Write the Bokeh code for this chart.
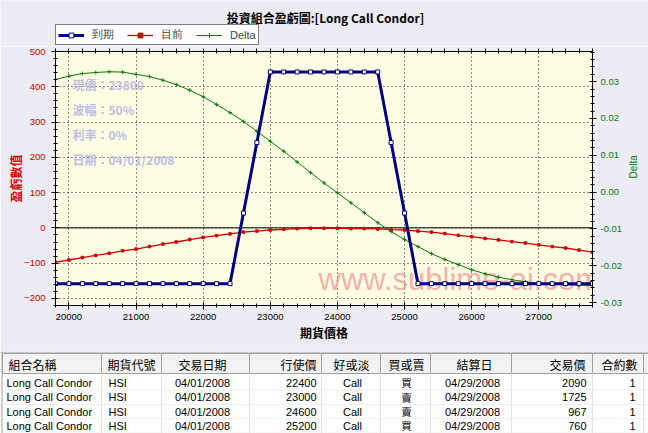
import math
from bokeh.plotting import figure
from bokeh.models import (Range1d, LinearAxis, SingleIntervalTicker, NumeralTickFormatter, FixedTicker,
                          Span, Label, Legend, LegendItem, ColumnDataSource, Plot)
from bokeh.layouts import column
from bokeh.core.properties import value
from bokeh.embed import file_html
from bokeh.resources import INLINE

# ---------------- data ----------------
futures_price = [19800, 20000, 20200, 20400, 20600, 20800, 21000, 21200, 21400, 21600,
                 21800, 22000, 22200, 22400, 22600, 22800, 23000, 23200, 23400, 23600,
                 23800, 24000, 24200, 24400, 24600, 24800, 25000, 25200, 25400, 25600,
                 25800, 26000, 26200, 26400, 26600, 26800, 27000, 27200, 27400, 27600, 27800]
expiry_pl = [-158, -158, -158, -158, -158, -158, -158, -158, -158, -158,
             -158, -158, -158, -158, 42, 242, 442, 442, 442, 442,
             442, 442, 442, 442, 442, 242, 42, -158, -158, -158,
             -158, -158, -158, -158, -158, -158, -158, -158, -158, -158, -158]
current_pl = [-97, -91, -84, -78, -72, -65, -60, -53, -46, -40,
              -33, -27, -22, -17, -12, -9, -6, -4, -2, -1,
              -1, -1, -2, -2, -3, -5, -6, -9, -12, -16,
              -21, -25, -30, -34, -39, -43, -48, -53, -57, -63, -69]
delta = [0.0306, 0.0315, 0.0322, 0.0325, 0.0327, 0.0326, 0.0320, 0.0314, 0.0304, 0.0292,
         0.0277, 0.0259, 0.0238, 0.0216, 0.0192, 0.0165, 0.0138, 0.0111, 0.0082, 0.0053,
         0.0025, -0.0002, -0.0029, -0.0056, -0.0083, -0.0107, -0.0129, -0.0148, -0.0167, -0.0183,
         -0.0197, -0.0211, -0.0222, -0.0231, -0.0238, -0.0244, -0.0247, -0.0250, -0.0252, -0.0253, -0.0254]

series_names = ["到期", "目前", "Delta"]
chart_title = "投資組合盈虧圖:[Long Call Condor]"
x_title = "期貨價格"
y_title = "盈虧數值"
y2_title = "Delta"
info_lines = ["現價：23800", "波幅：50%", "利率：0%", "日期：04/01/2008"]
watermark = "www.sublime-ai.com"

headers = ["組合名稱", "期貨代號", "交易日期", "行使價", "好或淡", "買或賣", "結算日", "交易價", "合約數"]
names = ["Long Call Condor", "Long Call Condor", "Long Call Condor", "Long Call Condor"]
codes = ["HSI", "HSI", "HSI", "HSI"]
trade_dates = ["04/01/2008", "04/01/2008", "04/01/2008", "04/01/2008"]
strikes = [22400, 23000, 24600, 25200]
opt_types = ["Call", "Call", "Call", "Call"]
sides = ["買", "賣", "賣", "買"]
settle_dates = ["04/29/2008", "04/29/2008", "04/29/2008", "04/29/2008"]
prices = [2090, 1725, 967, 760]
qtys = [1, 1, 1, 1]

# ---------------- layout constants ----------------
X0, X1 = 19800, 27800
Y0, Y1 = -220, 500
D0, D1 = -0.0308, 0.0382
W = 648
HEAD_H = 46          # title + legend strip
CH = 305             # chart figure height (frame 51..305 in page coords)
FL, FR, FT, FB = 55, 592, 51 - HEAD_H, 305 - HEAD_H

NAVY = "#000080"
RED = "#CC0000"
GREEN = "#0A7A0A"
BG = "#ECECF5"
CJK = "Noto Sans CJK TC"
LAT = "Liberation Sans"

HAS_FA = "frame_align" in Plot.properties()


def no_align(fig):
    if HAS_FA:
        fig.frame_align = False


def px_x(px):
    return X0 + (px - FL) * (X1 - X0) / (FR - FL)


def px_y(py):
    return Y1 - (py - FT) * (Y1 - Y0) / (FB - FT)


src = ColumnDataSource(dict(x=futures_price, expiry=expiry_pl, current=current_pl, delta=delta))

# ---------------- main chart ----------------
p = figure(width=W, height=CH, x_range=Range1d(X0, X1), y_range=Range1d(Y0, Y1),
           output_backend="svg", toolbar_location=None,
           min_border_left=FL, min_border_right=W - FR, min_border_top=FT, min_border_bottom=CH - FB,
           background_fill_color="#FDFDE3", border_fill_color=BG,
           outline_line_color="black")
no_align(p)
p.extra_y_ranges = {"delta": Range1d(D0, D1)}

xt = SingleIntervalTicker(interval=1000, num_minor_ticks=5)
yt = SingleIntervalTicker(interval=100, num_minor_ticks=5)
dt = SingleIntervalTicker(interval=0.01, num_minor_ticks=5)


def style_axis(ax, color):
    ax.axis_line_color = "black"
    ax.major_tick_line_color = "black"
    ax.minor_tick_line_color = "black"
    ax.major_tick_in = 3
    ax.major_tick_out = 4
    ax.minor_tick_in = 2
    ax.minor_tick_out = 2
    ax.major_label_text_font = LAT
    ax.major_label_text_font_size = "9.5px"
    ax.major_label_text_color = color
    ax.major_label_standoff = 4


p.xaxis.ticker = xt
p.yaxis.ticker = yt
xax = p.xaxis[0]
yax = p.yaxis[0]
style_axis(xax, "black")
style_axis(yax, RED)
yax.major_label_standoff = 6

xax.axis_label = x_title
xax.axis_label_text_font = CJK
xax.axis_label_text_font_size = "12px"
xax.axis_label_text_font_style = "bold"
xax.axis_label_text_color = "black"
xax.axis_label_standoff = 1

yax.axis_label = y_title
yax.axis_label_text_font = CJK
yax.axis_label_text_font_size = "12px"
yax.axis_label_text_font_style = "bold"
yax.axis_label_text_color = "#E00000"
yax.axis_label_standoff = -3

# top border: tick marks only (no major ticks -> no labels)
top_ax = LinearAxis(ticker=FixedTicker(ticks=[], minor_ticks=futures_price))
top_ax.axis_line_color = "black"
top_ax.minor_tick_line_color = "black"
top_ax.minor_tick_in = 2
top_ax.minor_tick_out = 3
p.add_layout(top_ax, "above")

right_ax = LinearAxis(y_range_name="delta", ticker=dt, formatter=NumeralTickFormatter(format="0.00"))
style_axis(right_ax, GREEN)
right_ax.axis_label = y2_title
right_ax.axis_label_text_font = LAT
right_ax.axis_label_text_font_size = "10px"
right_ax.axis_label_text_font_style = "normal"
right_ax.axis_label_text_color = GREEN
right_ax.axis_label_standoff = 8
try:
    right_ax.axis_label_orientation = math.pi / 2
except Exception:
    pass
p.add_layout(right_ax, "right")

p.xgrid.ticker = xt
p.ygrid.ticker = yt
p.grid.grid_line_color = "black"
p.grid.grid_line_dash = "1 3"
p.grid.grid_line_alpha = 0.9

p.add_layout(Span(location=0, dimension="width", line_color="black", line_width=1, level="underlay"))

# watermark & info text
p.add_layout(Label(x=px_x(318), y=px_y(279 - HEAD_H), text=watermark, text_align="left",
                   text_baseline="middle", text_font=LAT, text_font_size="31px",
                   text_color="#F09090", text_alpha=0.7, level="underlay"))
for i, line in enumerate(info_lines):
    p.add_layout(Label(x=px_x(72), y=px_y([84, 108.5, 133.5, 159][i] - HEAD_H), text=line,
                       text_align="left", text_baseline="middle", text_font=CJK,
                       text_font_size="12px", text_font_style="bold", text_color="#BCBCE4",
                       level="underlay"))

p.line("x", "current", source=src, line_color=RED, line_width=1.3)
p.scatter("x", "current", source=src, marker="square", size=2.5, fill_color=RED, line_color=RED)
p.line("x", "delta", source=src, y_range_name="delta", line_color=GREEN, line_width=1)
p.scatter("x", "delta", source=src, y_range_name="delta", marker="cross", size=4,
          line_color=GREEN, line_width=1)
p.line("x", "expiry", source=src, line_color=NAVY, line_width=3)
p.scatter("x", "expiry", source=src, marker="square", size=4, fill_color="white",
          line_color=NAVY, line_width=1)

# ---------------- header strip: title + legend ----------------
hd = figure(width=W, height=HEAD_H, x_range=Range1d(0, W), y_range=Range1d(HEAD_H, 0),
            x_axis_type=None, y_axis_type=None, output_backend="svg", toolbar_location=None,
            min_border=0, background_fill_color=BG, border_fill_color=BG, outline_line_color=None)
no_align(hd)
hd.grid.visible = False
hd.add_layout(Label(x=325, y=17, text=chart_title, text_align="center", text_baseline="middle",
                    text_font=CJK, text_font_size="12px", text_font_style="bold", text_color="black"))
# legend renderers share the series source; their points fall outside this strip's ranges
h_exp_l = hd.line("x", "expiry", source=src, line_color=NAVY, line_width=3)
h_exp_p = hd.scatter("x", "expiry", source=src, marker="square", size=4, fill_color="white",
                     line_color=NAVY, line_width=1)
h_cur_l = hd.line("x", "current", source=src, line_color=RED, line_width=1.3)
h_cur_p = hd.scatter("x", "current", source=src, marker="square", size=2.5, fill_color=RED, line_color=RED)
h_del_l = hd.line("x", "delta", source=src, line_color=GREEN, line_width=1)
h_del_p = hd.scatter("x", "delta", source=src, marker="cross", size=4, line_color=GREEN, line_width=1)
legend = Legend(items=[LegendItem(label=series_names[0], renderers=[h_exp_l, h_exp_p]),
                       LegendItem(label=series_names[1], renderers=[h_cur_l, h_cur_p]),
                       LegendItem(label=series_names[2], renderers=[h_del_l, h_del_p])],
                orientation="horizontal", location=(55, 1),
                border_line_color="black", border_line_width=1,
                background_fill_color="white", background_fill_alpha=1,
                padding=2, spacing=13, margin=0, glyph_width=26, glyph_height=12,
                label_standoff=8, label_height=12, label_text_font=LAT,
                label_text_font_size="11px")
hd.add_layout(legend)

# ---------------- table ----------------
TH = 82
t = figure(width=W, height=TH, x_range=Range1d(0, W), y_range=Range1d(TH, 0),
           x_axis_type=None, y_axis_type=None, output_backend="svg", toolbar_location=None,
           min_border=0, background_fill_color="white", border_fill_color="white",
           outline_line_color=None)
no_align(t)
t.grid.visible = False

edges = [2, 101, 161, 249, 321, 380, 430, 511, 592, 643, 660]
t.quad(left=[0], right=[W], top=[0], bottom=[2], fill_color="#C8C8D0", line_color=None)
t.quad(left=edges[:-1], right=edges[1:], top=[2] * 10, bottom=[22] * 10,
       fill_color="#F2F2F2", line_color="#A0A0A0", line_width=1)
row_y = [31.4, 45.7, 60.0, 74.3]
t.segment(x0=edges[1:-1], y0=[22] * 9, x1=edges[1:-1], y1=[TH] * 9, line_color="#E2E2E2", line_width=1)
t.segment(x0=[2] * 4, y0=[y + 7.2 for y in row_y], x1=[W] * 4, y1=[y + 7.2 for y in row_y],
          line_color="#EEEEEE", line_width=1)
t.segment(x0=[1.5], y0=[0], x1=[1.5], y1=[TH], line_color="#A0A0A0", line_width=1)

header_pos = [(8, "left"), (107, "left"), (202, "center"), (316, "right"), (351, "center"),
              (406, "center"), (474, "center"), (585, "right"), (619, "center")]
for h, (hx, al) in zip(headers, header_pos):
    t.text(x=[hx], y=[12.5], text=[h], text_align=al, text_baseline="middle",
           text_font=value(CJK), text_font_size="12px", text_color="black")

cols = [(names, 6, "left", LAT), (codes, 108, "left", LAT), (trade_dates, 202, "center", LAT),
        ([str(s) for s in strikes], 316, "right", LAT), (opt_types, 352, "center", LAT),
        (sides, 406, "center", CJK), (settle_dates, 472, "center", LAT),
        ([str(v) for v in prices], 586, "right", LAT), ([str(q) for q in qtys], 635, "right", LAT)]
for vals, cx, al, fnt in cols:
    t.text(x=[cx] * len(vals), y=row_y, text=vals, text_align=al, text_baseline="middle",
           text_font=value(fnt), text_font_size="11px" if fnt == LAT else "10.5px", text_color="black")

layout = column(hd, p, t, spacing=0)
open("out.html", "w").write(file_html(layout, INLINE))
